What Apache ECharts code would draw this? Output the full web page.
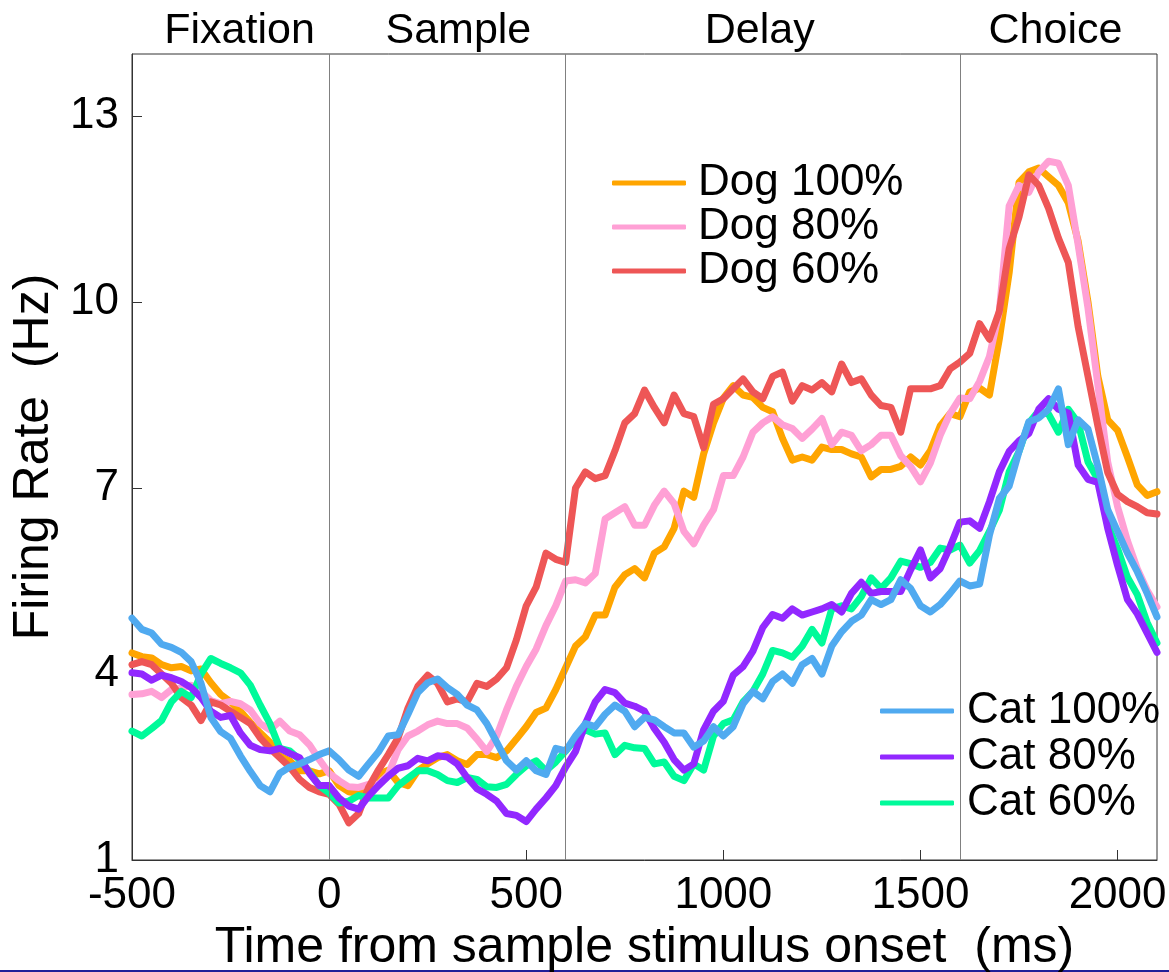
<!DOCTYPE html>
<html>
<head>
<meta charset="utf-8">
<title>Firing rate</title>
<script src="https://cdn.jsdelivr.net/npm/echarts@6/dist/echarts.min.js"></script>
<style>
html, body { margin: 0; padding: 0; background: #fff; }
#firingRateChart { width: 1169px; height: 972px; }
</style>
</head>
<body>
<div id="firingRateChart"></div>
<script>
// sampling grid: one value every 25 ms, starting at -500 ms
var tStart = -500;
var tStep = 25;

// firing rate (Hz)
var dog100 = [4.34, 4.28, 4.26, 4.15, 4.1, 4.12, 4.05, 4.08, 3.86, 3.67,
  3.55, 3.4, 3.22, 3.05, 2.9, 2.68, 2.6, 2.44, 2.44, 2.39,
  2.44, 2.2, 2.1, 2.07, 2.12, 2.38, 2.45, 2.25, 2.2, 2.44,
  2.55, 2.65, 2.7, 2.6, 2.54, 2.7, 2.7, 2.65, 2.76, 2.95,
  3.15, 3.38, 3.45, 3.75, 4.1,
  4.45, 4.6, 4.95, 4.95, 5.4, 5.6, 5.7, 5.55, 5.95, 6.05, 6.35, 6.95, 6.85, 7.55, 8.05, 8.45, 8.65, 8.5, 8.46, 8.3,
  8.23, 7.8, 7.45, 7.5, 7.45, 7.66, 7.62, 7.62, 7.55, 7.5, 7.18, 7.3, 7.3, 7.35, 7.5, 7.37, 7.6, 8.0, 8.2, 8.15,
  8.55, 8.61, 8.5, 9.4, 10.47, 11.93, 12.1, 12.16, 12.02, 11.88, 11.6, 10.98, 10.0, 8.8, 8.1, 7.93, 7.5, 7.05, 6.88, 6.94];
var dog80 = [3.67, 3.68, 3.72, 3.62, 3.75, 3.77, 3.82, 3.72, 3.57, 3.52,
  3.56, 3.52, 3.42, 3.2, 3.1, 3.24, 3.08, 3.02, 2.86, 2.62,
  2.4, 2.28, 2.18, 2.17, 2.22, 2.22, 2.38, 2.78, 3.0, 3.08,
  3.18, 3.24, 3.2, 3.2, 3.13, 2.95, 2.75, 3.0, 3.42, 3.8,
  4.12, 4.4, 4.78, 5.1, 5.5,
  5.52, 5.47, 5.62, 6.5, 6.6, 6.7, 6.4, 6.4, 6.72, 6.95, 6.75, 6.3, 6.1, 6.4, 6.65, 7.2, 7.2, 7.5, 7.9, 8.05,
  8.15, 8.02, 7.96, 7.8, 7.95, 8.12, 7.7, 7.9, 7.85, 7.6, 7.7, 7.85, 7.85, 7.52, 7.35, 7.1, 7.4, 7.85, 8.2, 8.45,
  8.44, 8.72, 9.12, 9.85, 11.55, 11.88, 11.77, 12.1, 12.27, 12.24, 11.88, 10.92, 9.9, 8.66, 7.42, 6.7, 6.15, 5.7, 5.35, 5.08];
var dog60 = [4.15, 4.2, 4.15, 4.0, 3.85, 3.62, 3.5, 3.25, 3.55, 3.5,
  3.4, 3.3, 3.2, 2.97, 2.8, 2.65, 2.5, 2.3, 2.17, 2.1,
  2.06, 1.9, 1.6, 1.75, 2.17, 2.45, 2.7, 2.97, 3.45, 3.8,
  3.98, 3.85, 3.55, 3.6, 3.55, 3.85, 3.8, 3.92, 4.1, 4.55,
  5.1, 5.4, 5.95, 5.85, 5.8,
  7.0, 7.26, 7.15, 7.2, 7.6, 8.05, 8.2, 8.58, 8.3, 8.05, 8.5, 8.2, 8.15, 7.65, 8.35, 8.44, 8.6, 8.76, 8.55, 8.44,
  8.8, 8.87, 8.4, 8.65, 8.58, 8.7, 8.55, 9.0, 8.7, 8.76, 8.5, 8.33, 8.3, 7.9, 8.6, 8.6, 8.6, 8.65, 8.92, 9.03,
  9.17, 9.65, 9.4, 9.85, 10.86, 11.37, 12.05, 11.88, 11.51, 11.03, 10.64, 9.6, 8.8, 8.0, 7.25, 6.9, 6.78, 6.7, 6.6, 6.58];
var cat100 = [4.9, 4.72, 4.66, 4.48, 4.43, 4.35, 4.2, 3.85, 3.3, 3.07,
  2.96, 2.68, 2.43, 2.2, 2.1, 2.4, 2.5, 2.55, 2.62, 2.7,
  2.76, 2.62, 2.45, 2.35, 2.55, 2.74, 3.0, 3.02, 3.35, 3.7,
  3.86, 3.92, 3.78, 3.67, 3.5, 3.42, 3.2, 2.9, 2.6, 2.45,
  2.6, 2.44, 2.38, 2.8, 2.76,
  3.0, 3.2, 3.15, 3.35, 3.5, 3.4, 3.15, 3.3, 3.26, 3.15, 3.05, 3.05, 2.82, 2.92, 3.15, 3.0, 3.15, 3.52, 3.72, 3.6,
  3.88, 4.0, 3.85, 4.15, 4.25, 4.0, 4.45, 4.68, 4.85, 4.95, 5.2, 5.12, 5.2, 5.52, 5.38, 5.1, 5.0, 5.12, 5.3, 5.5,
  5.42, 5.45, 6.24, 6.83, 7.03, 7.59, 8.07, 8.13, 8.27, 8.6, 7.7, 8.1, 7.95, 7.35, 6.65, 6.3, 5.95, 5.65, 5.3, 4.92];
var cat80 = [4.02, 4.0, 3.9, 3.98, 3.94, 3.88, 3.78, 3.62, 3.4, 3.3,
  3.33, 3.05, 2.85, 2.78, 2.76, 2.8, 2.72, 2.65, 2.4, 2.2,
  2.2, 2.0, 1.87, 1.82, 2.03, 2.2, 2.35, 2.48, 2.52, 2.64,
  2.6, 2.68, 2.66, 2.55, 2.33, 2.15, 2.06, 1.95, 1.75, 1.72,
  1.62, 1.82, 2.0, 2.2, 2.5,
  2.75, 3.2, 3.55, 3.75, 3.7, 3.53, 3.48, 3.4, 3.12, 2.9, 2.62, 2.45, 2.55, 3.1, 3.4, 3.56, 3.98, 4.12, 4.37, 4.75,
  4.96, 4.9, 5.05, 4.95, 5.0, 5.05, 5.12, 5.0, 5.3, 5.48, 5.3, 5.33, 5.33, 5.33, 5.68, 6.0, 5.55, 5.7, 6.05, 6.45,
  6.47, 6.35, 6.78, 7.26, 7.59, 7.76, 7.88, 8.27, 8.44, 8.27, 8.21, 7.37, 7.14, 7.09, 6.35, 5.75, 5.2, 4.97, 4.66, 4.35];
var cat60 = [3.08, 3.0, 3.12, 3.25, 3.55, 3.72, 3.62, 4.0, 4.25, 4.17,
  4.1, 4.02, 3.82, 3.5, 3.2, 2.8, 2.76, 2.62, 2.42, 2.2,
  2.08, 1.92, 1.95, 2.04, 2.0, 2.0, 2.0, 2.2, 2.32, 2.44,
  2.44, 2.38, 2.28, 2.25, 2.33, 2.3, 2.18, 2.17, 2.22, 2.38,
  2.52, 2.6, 2.44, 2.58, 2.76,
  2.95, 3.1, 3.03, 3.05, 2.7, 2.85, 2.81, 2.8, 2.55, 2.58, 2.35, 2.28, 2.55, 2.45, 3.0, 3.2, 3.26, 3.55, 3.72, 4.0,
  4.38, 4.34, 4.27, 4.45, 4.72, 4.5, 5.05, 5.1, 5.05, 5.25, 5.55, 5.38, 5.55, 5.82, 5.78, 5.72, 5.8, 6.03, 6.0, 6.08,
  5.79, 5.99, 6.3, 6.64, 7.26, 7.59, 8.05, 8.24, 8.19, 7.9, 8.27, 8.05, 7.42, 7.14, 6.41, 6.02, 5.56, 5.28, 4.83, 4.5];

// task epochs and event markers (ms)
var phaseNames = ['Fixation', 'Sample', 'Delay', 'Choice'];
var phaseBounds = [-500, 0, 600, 1600, 2100];
var eventLines = [0, 600, 1600];

var xTicks = [-500, 0, 500, 1000, 1500, 2000];
var yTicks = [1, 4, 7, 10, 13];

var FONT = "'Liberation Sans', Arial, Helvetica, sans-serif";
// small horizontal nudges of the epoch titles (px), as placed in the original
var phaseLabelNudge = [9, 11, -3, -3];

function toPoints(vals) {
  return vals.map(function (v, i) { return [tStart + i * tStep, v]; });
}

function lineSeries(name, vals, color) {
  return {
    name: name,
    type: 'line',
    data: toPoints(vals),
    symbol: 'none',
    showSymbol: false,
    silent: true,
    lineStyle: { width: 7, color: color, cap: 'round', join: 'round' },
    itemStyle: { color: color },
    emphasis: { disabled: true }
  };
}

var myChart = echarts.init(document.getElementById('firingRateChart'));

var series = [
  lineSeries('Dog 100%', dog100, '#FFA500'),
  lineSeries('Dog 80%', dog80, '#FFA0D5'),
  lineSeries('Dog 60%', dog60, '#EE5656'),
  lineSeries('Cat 60%', cat60, '#00FA9A'),
  lineSeries('Cat 80%', cat80, '#9228FF'),
  lineSeries('Cat 100%', cat100, '#50AAF0')
];

// event lines and epoch names ride on the first series
series[0].markLine = {
  silent: true,
  symbol: ['none', 'none'],
  label: { show: false },
  lineStyle: { color: '#808080', width: 1, type: 'solid' },
  data: eventLines.map(function (t) { return { xAxis: t }; })
};
series[0].markArea = {
  silent: true,
  itemStyle: { color: 'rgba(0,0,0,0)' },
  label: { show: true, position: 'top', distance: 1, color: '#000', fontSize: 43, fontFamily: FONT },
  data: phaseNames.map(function (n, i) {
    return [
      { name: n, xAxis: phaseBounds[i], label: { offset: [phaseLabelNudge[i], 0] } },
      { xAxis: phaseBounds[i + 1] }
    ];
  })
};

var legendBase = {
  orient: 'vertical',
  padding: 0,
  itemGap: 0,
  itemWidth: 74,
  itemHeight: 5,
  icon: 'roundRect',
  selectedMode: false
};

var plainNumber = function (v) { return String(v); };

var option = {
  animation: false,
  backgroundColor: '#fff',
  textStyle: { fontFamily: FONT },
  grid: {
    left: 132, right: 12, top: 54, bottom: 112,
    containLabel: false,
    outerBoundsMode: 'none',
    show: true, borderColor: '#333', borderWidth: 1
  },
  legend: [
    Object.assign({}, legendBase, {
      data: ['Dog 100%', 'Dog 80%', 'Dog 60%'],
      left: 612, top: 161,
      textStyle: { fontSize: 44, lineHeight: 41, color: '#000', fontFamily: FONT, padding: [0, 0, 0, 7] }
    }),
    Object.assign({}, legendBase, {
      data: ['Cat 100%', 'Cat 80%', 'Cat 60%'],
      left: 880, top: 688,
      textStyle: { fontSize: 44, lineHeight: 46, color: '#000', fontFamily: FONT, padding: [0, 0, 0, 8] }
    })
  ],
  xAxis: {
    type: 'value',
    min: -500,
    max: 2100,
    interval: 500,
    name: 'Time from sample stimulus onset  (ms)',
    nameLocation: 'middle',
    nameGap: 60,
    nameTextStyle: { fontSize: 50, color: '#000', fontFamily: FONT },
    axisLine: { show: true, onZero: false, lineStyle: { color: '#333', width: 1 } },
    axisTick: { show: true, inside: true, length: 10, customValues: xTicks, lineStyle: { color: '#333' } },
    axisLabel: { fontSize: 44, color: '#000', margin: 14, customValues: xTicks, formatter: plainNumber, fontFamily: FONT },
    splitLine: { show: false }
  },
  yAxis: {
    type: 'value',
    min: 1,
    max: 14,
    interval: 3,
    name: 'Firing Rate  (Hz)',
    nameLocation: 'middle',
    nameGap: 49,
    nameTextStyle: { fontSize: 50, color: '#000', fontFamily: FONT },
    axisLine: { show: true, onZero: false, lineStyle: { color: '#333', width: 1 } },
    axisTick: { show: true, inside: true, length: 10, customValues: yTicks, lineStyle: { color: '#333' } },
    axisLabel: { fontSize: 44, color: '#000', margin: 13, customValues: yTicks, formatter: plainNumber, fontFamily: FONT },
    splitLine: { show: false }
  },
  graphic: [{
    type: 'rect',
    silent: true,
    shape: { x: 0, y: 970, width: 1169, height: 2 },
    style: { fill: '#1f1f99' }
  }],
  series: series
};

myChart.setOption(option);
</script>
</body>
</html>
